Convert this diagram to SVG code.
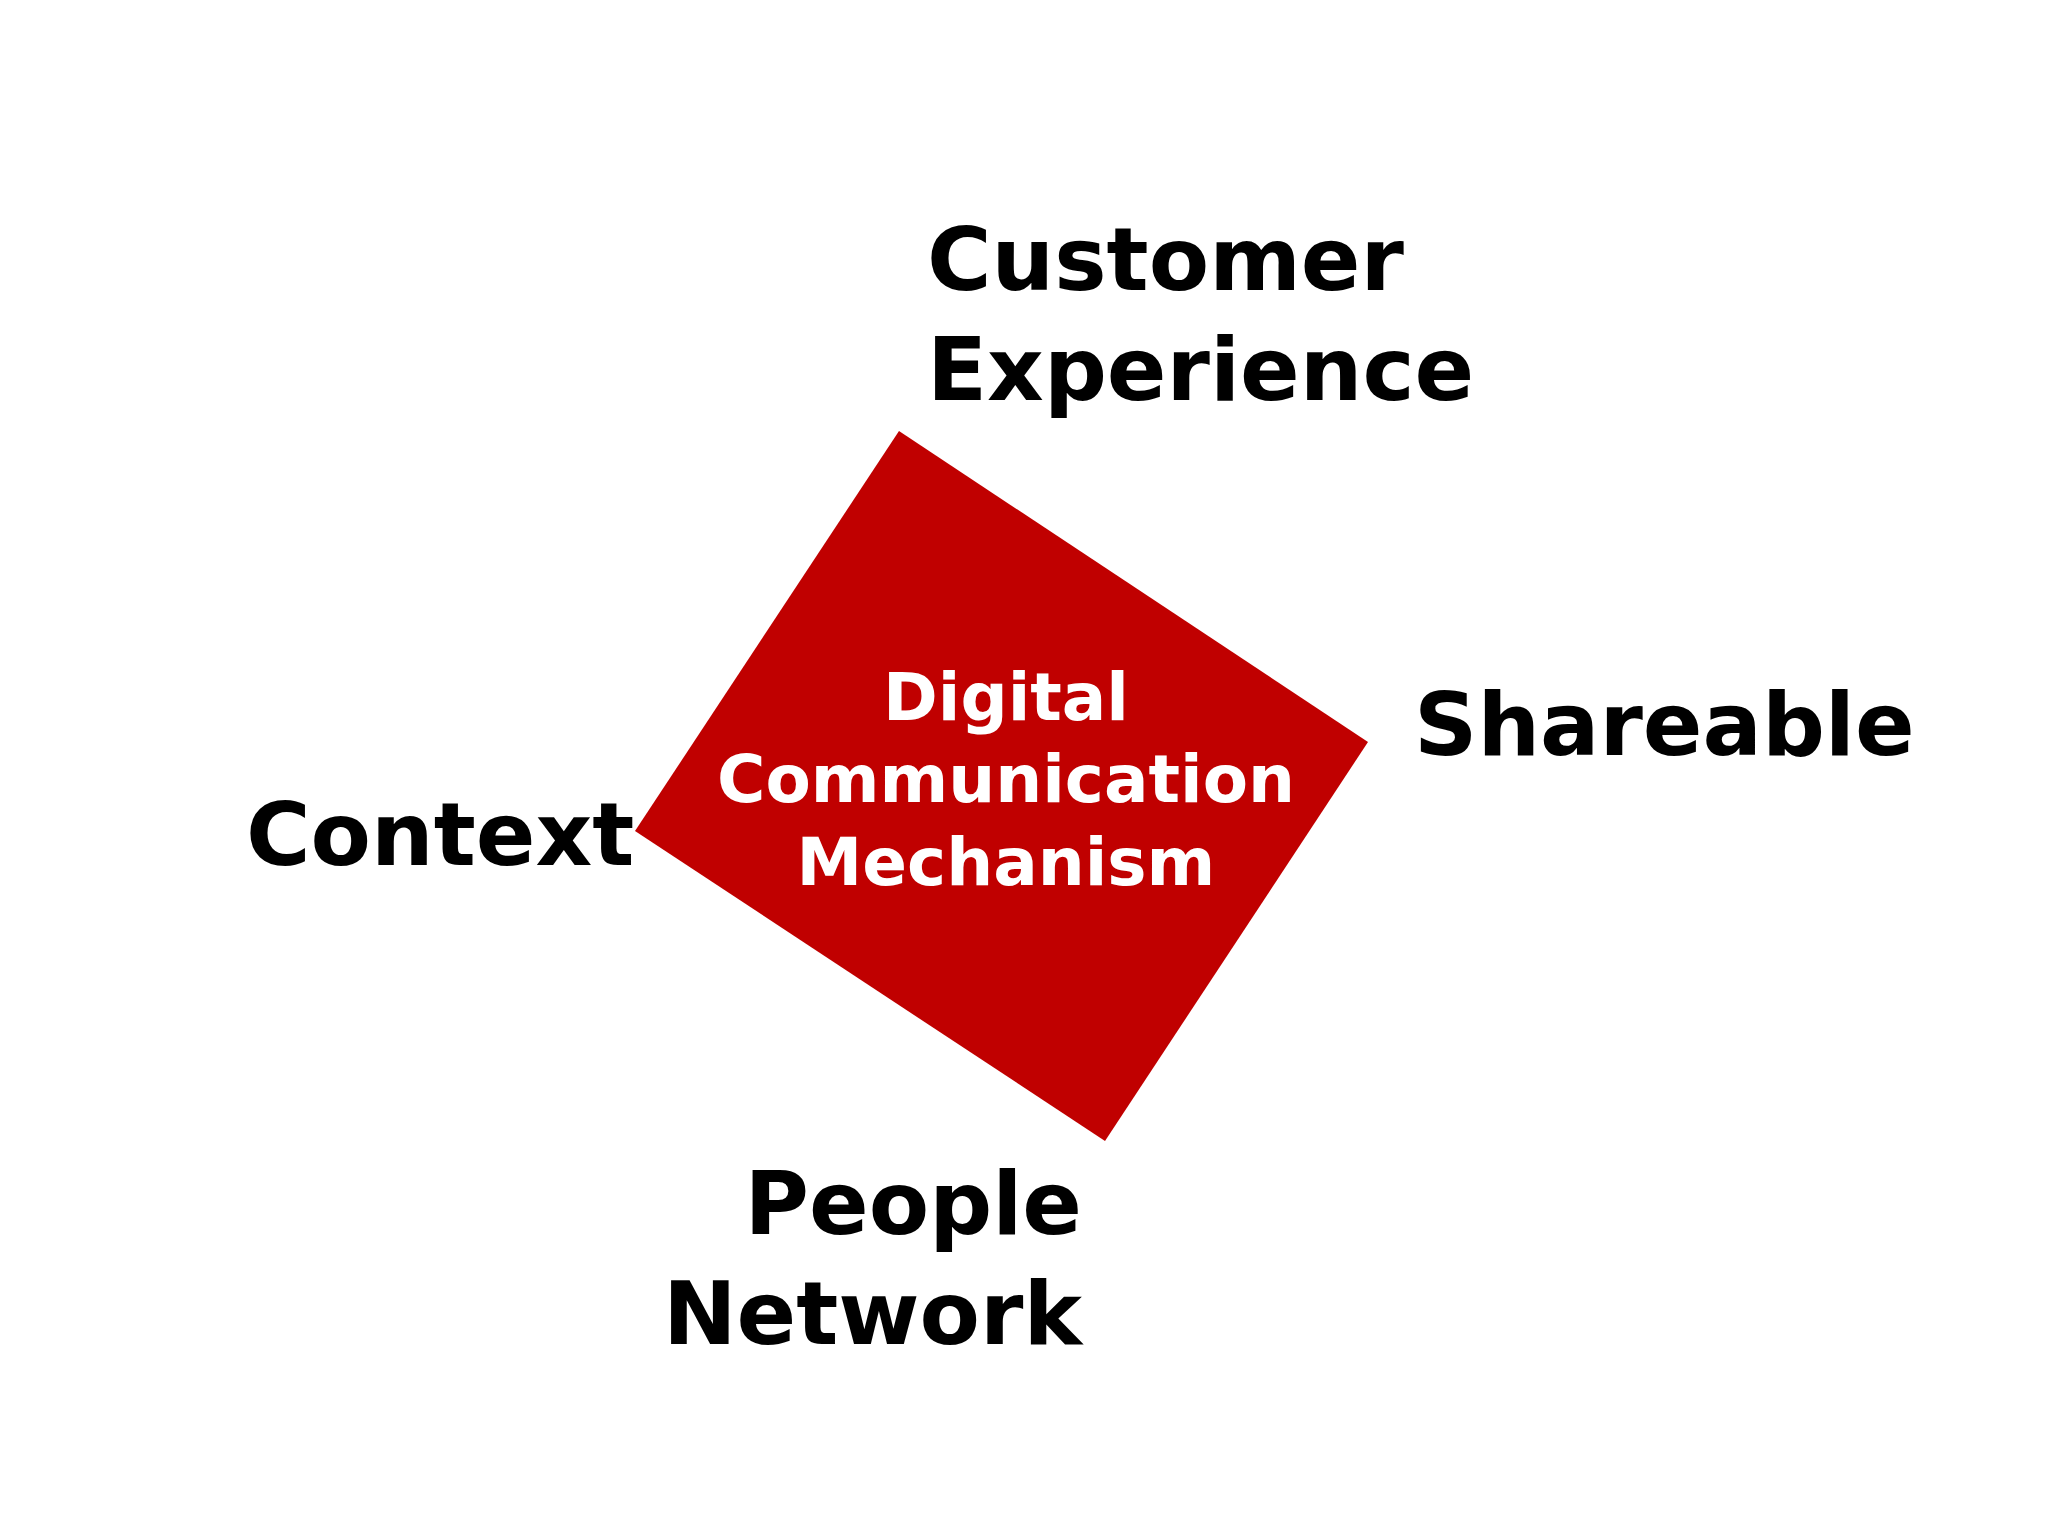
<svg xmlns="http://www.w3.org/2000/svg" width="2048" height="1536" viewBox="0 0 2048 1536">
<style>
.l{font-family:"DejaVu Sans",Verdana,sans-serif;font-weight:bold;font-size:88px;fill:#000}
.c{font-family:"DejaVu Sans",Verdana,sans-serif;font-weight:bold;font-size:66px;fill:#fff;text-anchor:middle}
</style>
<rect width="2048" height="1536" fill="#fff"/>
<g id="center">
<polygon points="899,431 1368,742 1105,1141 635,831" fill="#c00000"/>
<text class="c" x="1006" y="720">Digital</text>
<text class="c" x="1006" y="802">Communication</text>
<text class="c" x="1006" y="885">Mechanism</text>
</g>
<g id="customer"><text class="l" x="927" y="290">Customer</text><text class="l" x="927" y="400">Experience</text></g>
<g id="shareable"><text class="l" x="1414" y="755">Shareable</text></g>
<g id="context"><text class="l" x="246" y="865">Context</text></g>
<g id="people"><text class="l" x="1082" y="1234" text-anchor="end">People</text><text class="l" x="1082" y="1344" text-anchor="end">Network</text></g>
<g id="connectors"/>
</svg>
